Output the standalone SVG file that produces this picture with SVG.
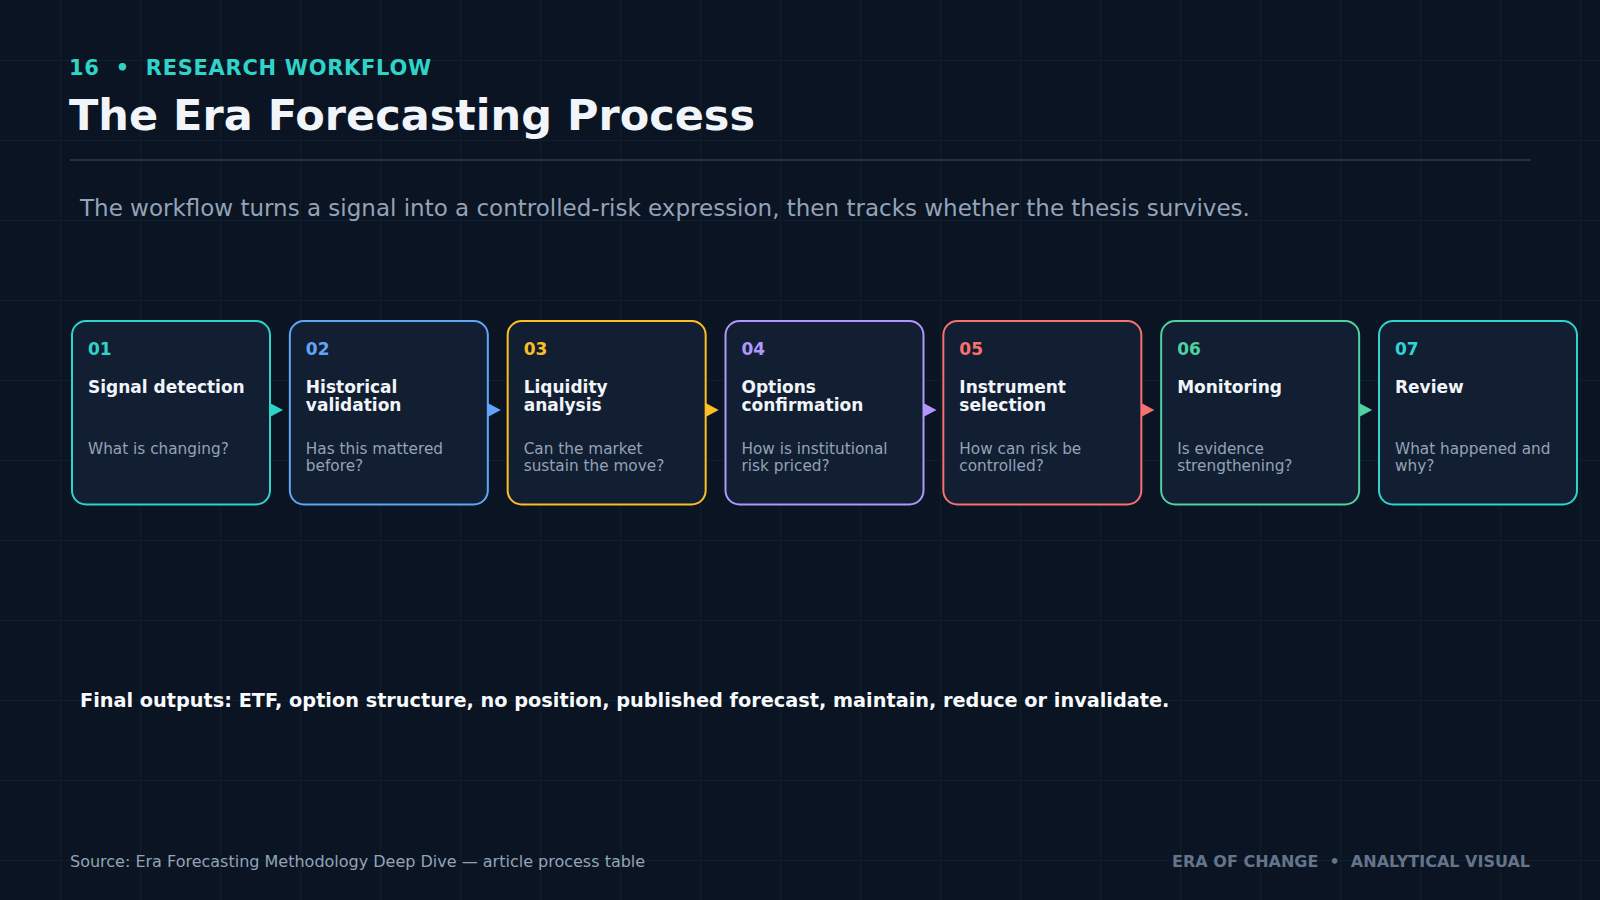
<svg xmlns="http://www.w3.org/2000/svg" width="1600" height="900" viewBox="0 0 1600 900">
<defs>
<pattern id="grid" patternUnits="userSpaceOnUse" x="60" y="60" width="80" height="80">
<path d="M0.5 0 V80 M0 0.5 H80" stroke="#0f1e2c" stroke-width="1" fill="none"/>
</pattern>
<style>
text{font-family:"DejaVu Sans","Noto Sans",sans-serif;}
.card{fill:#121e31;stroke-width:2;}
.num{font-size:17px;font-weight:bold;}
.ttl{font-size:17px;font-weight:bold;fill:#f1f5f9;}
.q{font-size:15.3px;fill:#94a3b8;}
.c1{stroke:#2fd4c8;}.f1{fill:#2fd4c8;}
.c2{stroke:#60a5fa;}.f2{fill:#60a5fa;}
.c3{stroke:#fbbf24;}.f3{fill:#fbbf24;}
.c4{stroke:#b197fc;}.f4{fill:#b197fc;}
.c5{stroke:#f87171;}.f5{fill:#f87171;}
.c6{stroke:#4fd1a0;}.f6{fill:#4fd1a0;}
.c7{stroke:#2fd4d0;}.f7{fill:#2fd4d0;}
</style>
</defs>
<rect width="1600" height="900" fill="#0a1422"/>
<rect width="1600" height="900" fill="url(#grid)"/>

<g id="header">
<text x="69" y="75" font-size="21" font-weight="bold" fill="#2fd4c8" letter-spacing="0.7" xml:space="preserve">16  •  RESEARCH WORKFLOW</text>
<text x="69" y="130" font-size="43" font-weight="bold" fill="#f1f5f9">The Era Forecasting Process</text>
<rect x="70" y="159" width="1461" height="2" fill="#1f3247"/>
<text x="80" y="216" font-size="23" fill="#94a3b8">The workflow turns a signal into a controlled-risk expression, then tracks whether the thesis survives.</text>
</g>

<g id="connectors">
<polygon class="f1" points="268,402 283,410 268,418"/>
<polygon class="f2" points="485.83,402 500.83,410 485.83,418"/>
<polygon class="f3" points="703.67,402 718.67,410 703.67,418"/>
<polygon class="f4" points="921.5,402 936.5,410 921.5,418"/>
<polygon class="f5" points="1139.33,402 1154.33,410 1139.33,418"/>
<polygon class="f6" points="1357.17,402 1372.17,410 1357.17,418"/>
</g>

<g id="node-01">
<rect class="card c1" x="72" y="321" width="198" height="183.5" rx="14"/>
<text class="num f1" x="88" y="355">01</text>
<text class="ttl" x="88" y="393">Signal detection</text>
<text class="q" x="88" y="454">What is changing?</text>
</g>
<g id="node-02">
<rect class="card c2" x="289.83" y="321" width="198" height="183.5" rx="14"/>
<text class="num f2" x="305.83" y="355">02</text>
<text class="ttl" x="305.83" y="393">Historical</text>
<text class="ttl" x="305.83" y="411">validation</text>
<text class="q" x="305.83" y="454">Has this mattered</text>
<text class="q" x="305.83" y="471">before?</text>
</g>
<g id="node-03">
<rect class="card c3" x="507.67" y="321" width="198" height="183.5" rx="14"/>
<text class="num f3" x="523.67" y="355">03</text>
<text class="ttl" x="523.67" y="393">Liquidity</text>
<text class="ttl" x="523.67" y="411">analysis</text>
<text class="q" x="523.67" y="454">Can the market</text>
<text class="q" x="523.67" y="471">sustain the move?</text>
</g>
<g id="node-04">
<rect class="card c4" x="725.5" y="321" width="198" height="183.5" rx="14"/>
<text class="num f4" x="741.5" y="355">04</text>
<text class="ttl" x="741.5" y="393">Options</text>
<text class="ttl" x="741.5" y="411">confirmation</text>
<text class="q" x="741.5" y="454">How is institutional</text>
<text class="q" x="741.5" y="471">risk priced?</text>
</g>
<g id="node-05">
<rect class="card c5" x="943.33" y="321" width="198" height="183.5" rx="14"/>
<text class="num f5" x="959.33" y="355">05</text>
<text class="ttl" x="959.33" y="393">Instrument</text>
<text class="ttl" x="959.33" y="411">selection</text>
<text class="q" x="959.33" y="454">How can risk be</text>
<text class="q" x="959.33" y="471">controlled?</text>
</g>
<g id="node-06">
<rect class="card c6" x="1161.17" y="321" width="198" height="183.5" rx="14"/>
<text class="num f6" x="1177.17" y="355">06</text>
<text class="ttl" x="1177.17" y="393">Monitoring</text>
<text class="q" x="1177.17" y="454">Is evidence</text>
<text class="q" x="1177.17" y="471">strengthening?</text>
</g>
<g id="node-07">
<rect class="card c7" x="1379" y="321" width="198" height="183.5" rx="14"/>
<text class="num f7" x="1395" y="355">07</text>
<text class="ttl" x="1395" y="393">Review</text>
<text class="q" x="1395" y="454">What happened and</text>
<text class="q" x="1395" y="471">why?</text>
</g>

<g id="footer">
<text x="80" y="707" font-size="19.3" font-weight="bold" fill="#f8fafc">Final outputs: ETF, option structure, no position, published forecast, maintain, reduce or invalidate.</text>
<text x="70" y="867" font-size="16" fill="#94a3b8">Source: Era Forecasting Methodology Deep Dive — article process table</text>
<text x="1530" y="867" font-size="16" font-weight="bold" fill="#64748b" text-anchor="end" xml:space="preserve">ERA OF CHANGE  •  ANALYTICAL VISUAL</text>
</g>
</svg>
